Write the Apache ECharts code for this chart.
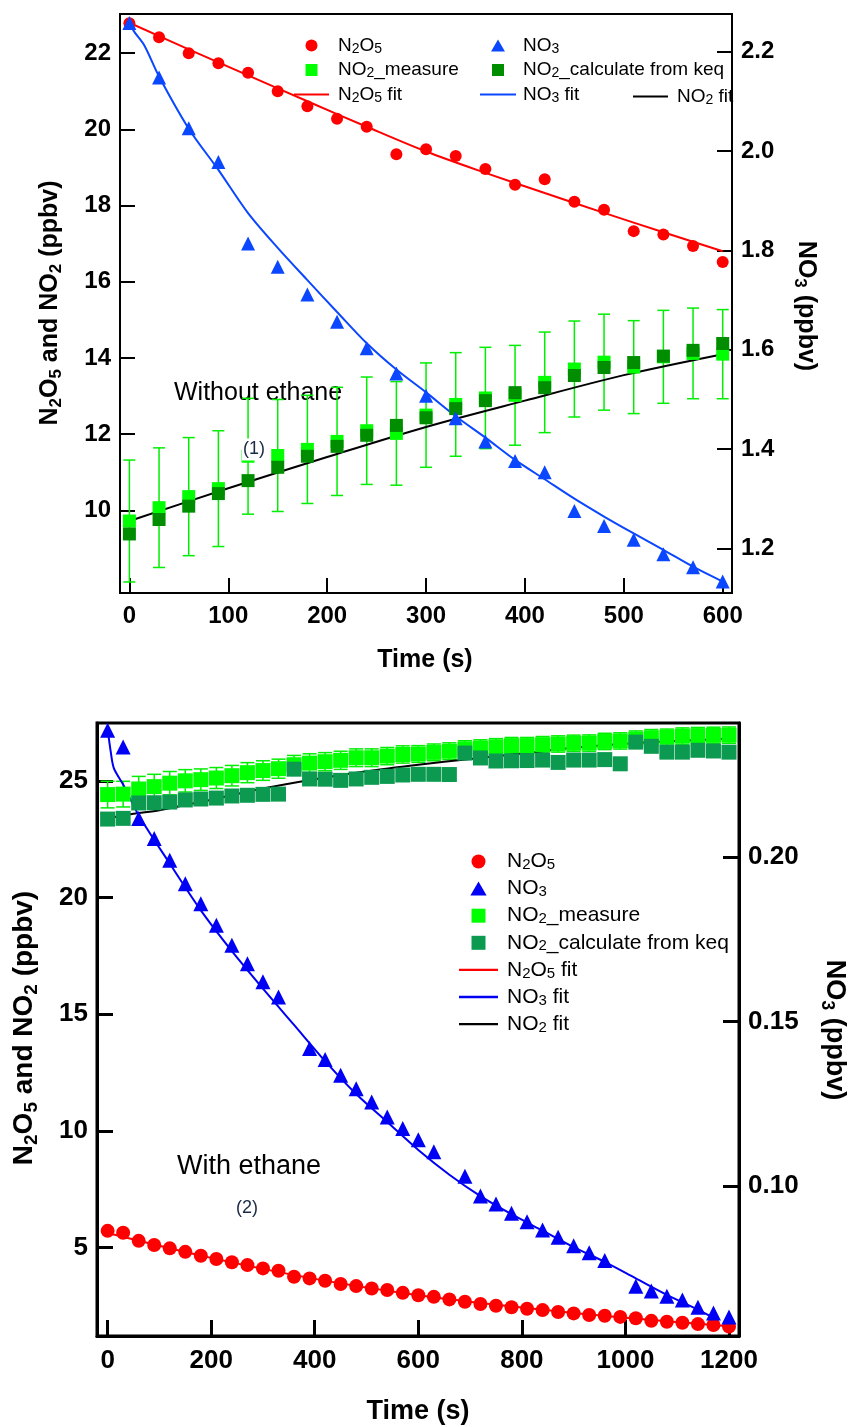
<!DOCTYPE html>
<html><head><meta charset="utf-8">
<script src="https://cdn.jsdelivr.net/npm/echarts@6.0.0/dist/echarts.min.js"></script>
<style>html,body{margin:0;padding:0;background:#fff}#c{width:852px;height:1427px}</style>
</head><body><div id="c"></div>
<script>
// ---------------- DATA : top panel (without ethane) ----------------
const tTop = [0,30,60,90,120,150,180,210,240,270,300,330,360,390,420,450,480,510,540,570,600];
const n2o5Top = [22.79,22.42,22.00,21.74,21.49,21.00,20.61,20.28,20.07,19.35,19.48,19.30,18.96,18.55,18.69,18.10,17.89,17.33,17.24,16.94,16.52];
const no3Top = [2.258,2.148,2.046,1.978,1.814,1.767,1.711,1.656,1.603,1.552,1.507,1.462,1.415,1.376,1.353,1.275,1.245,1.217,1.188,1.162,1.133];
const no2MeasTop = [9.72,10.07,10.36,10.57,11.42,11.44,11.60,11.81,12.09,12.02,12.50,12.78,12.95,13.02,13.36,13.71,13.89,13.76,14.03,14.12,14.10];
const no2ErrTop = [1.60,1.57,1.55,1.52,1.52,1.47,1.42,1.42,1.41,1.36,1.37,1.36,1.33,1.31,1.32,1.26,1.26,1.22,1.22,1.19,1.17];
const no2CalcTop = [9.38,9.76,10.11,10.44,10.78,11.13,11.42,11.68,11.97,12.23,12.43,12.67,12.88,13.09,13.22,13.54,13.75,13.88,14.05,14.20,14.38];
const n2o5FitTopT = [0,60,120,180,240,300,360,420,480,540,600];
const n2o5FitTop = [22.80,22.10,21.42,20.74,20.07,19.42,18.86,18.33,17.81,17.30,16.80];
const no3FitTopT = [0,5,15,30,60,90,120,150,180,210,240,270,300,330,360,390,420,450,480,510,540,570,600];
const no3FitTop = [2.258,2.240,2.213,2.150,2.045,1.962,1.875,1.805,1.740,1.676,1.613,1.560,1.514,1.466,1.423,1.378,1.339,1.300,1.264,1.230,1.197,1.163,1.133];
const no2FitTopT = [0,100,200,300,400,500,600];
const no2FitTop = [9.72,10.58,11.40,12.19,12.88,13.55,14.10];
const xTicksTop = [0,100,200,300,400,500,600];
const yLeftTicksTop = [10,12,14,16,18,20,22];
const yRightTicksTop = [1.2,1.4,1.6,1.8,2.0,2.2];

// ---------------- DATA : bottom panel (with ethane) ----------------
const tBot = [0,30,60,90,120,150,180,210,240,270,300,330,360,390,420,450,480,510,540,570,600,630,660,690,720,750,780,810,840,870,900,930,960,990,1020,1050,1080,1110,1140,1170,1200];
const n2o5Bot = [5.71,5.63,5.28,5.10,4.96,4.81,4.64,4.50,4.36,4.24,4.10,4.00,3.74,3.67,3.57,3.43,3.34,3.24,3.17,3.05,2.95,2.88,2.77,2.67,2.57,2.50,2.43,2.37,2.31,2.23,2.17,2.10,2.07,2.02,1.96,1.85,1.81,1.77,1.71,1.67,1.60];
const no3Bot = [0.2385,0.2334,0.2117,0.2056,0.1990,0.1919,0.1858,0.1793,0.1732,0.1676,0.1621,0.1575,null,0.1418,0.1385,0.1337,0.1296,0.1256,0.1210,0.1175,0.1141,0.1105,null,0.1030,0.0970,0.0946,0.0918,0.0892,0.0867,0.0845,0.0819,0.0798,0.0774,null,0.0696,0.0682,0.0666,0.0654,0.0632,0.0615,0.0603];
const no2MeasBot = [24.42,24.44,24.66,24.76,24.91,25.01,25.06,25.13,25.23,25.36,25.45,25.53,25.70,25.77,25.83,25.89,26.00,26.00,26.07,26.14,26.16,26.23,26.28,26.38,26.42,26.47,26.52,26.52,26.56,26.59,26.62,26.63,26.70,26.72,26.80,26.86,26.88,26.93,26.95,26.96,26.97];
const no2ErrBot = [0.57,0.55,0.54,0.53,0.50,0.48,0.46,0.45,0.44,0.43,0.42,0.41,0.40,0.40,0.39,0.39,0.38,0.38,0.37,0.37,0.36,0.36,0.36,0.35,0.35,0.35,0.35,0.35,0.35,0.35,0.35,0.35,0.35,0.35,0.35,0.35,0.35,0.35,0.35,0.35,0.35];
const no2CalcBot = [23.37,23.40,24.06,24.07,24.10,24.19,24.23,24.27,24.36,24.39,24.43,24.44,25.51,25.09,25.08,25.03,25.09,25.16,25.20,25.26,25.29,25.29,25.28,26.20,25.99,25.86,25.87,25.88,25.90,25.80,25.90,25.90,25.92,25.74,26.67,26.49,26.24,26.24,26.32,26.29,26.24];
const n2o5FitBotT = [0,200,400,600,800,1000,1200];
const n2o5FitBot = [5.62,4.55,3.65,2.95,2.42,1.98,1.62];
const no3FitBotT = [0,6,12,30,60,120,180,240,300,360,420,480,540,600,660,720,780,840,900,960,1020,1080,1140,1170];
const no3FitBot = [0.2390,0.2320,0.2270,0.2220,0.2127,0.1980,0.1838,0.1714,0.1600,0.1490,0.1380,0.1280,0.1195,0.1110,0.1035,0.0970,0.0915,0.0865,0.0815,0.0770,0.0720,0.0670,0.0625,0.0600];
const no2FitBotT = [0,50,100,200,300,400,500,600,700,800,900,1000,1100,1200];
const no2FitBot = [23.40,23.60,23.75,24.20,24.68,25.08,25.42,25.70,25.95,26.18,26.43,26.60,26.72,26.82];
const xTicksBot = [0,200,400,600,800,1000,1200];
const yLeftTicksBot = [5,10,15,20,25];
const yRightTicksBot = [0.10,0.15,0.20];

// ---------------- helpers ----------------
const FF = '"Liberation Sans", Arial, sans-serif';
const Z = '\u200b'; // distinguishes bottom-panel series names
const ICON = {
  circle: 'path://M50,0A50,50,0,1,1,50,100A50,50,0,1,1,50,0Z',
  tri: 'path://M58,0L116,100L0,100Z',
  sq: 'path://M0,0H100V100H0Z',
  line: 'path://M0,0H100V6H0Z'
};
const pairs = (xs, ys) => xs.map((x, i) => ys[i] == null ? null : [x, ys[i]]).filter(Boolean);
const bars = (xs, ys, es) => xs.map((x, i) => [x, ys[i] - es[i], ys[i] + es[i]]);
function chem(name) {
  const s = name.replace(/\u200b/g, '');
  return ('{n|' + s.replace(/(\d)/g, '}{s|$1}{n|') + '}').replace(/\{n\|\}/g, '');
}
function errBarSeries(data, xi, yi, cap, color) {
  return {
    type: 'custom', xAxisIndex: xi, yAxisIndex: yi, z: 2, silent: true,
    encode: { x: 0, y: [1, 2] },
    data: data,
    renderItem: function (params, api) {
      const x = api.value(0);
      const pHi = api.coord([x, api.value(2)]);
      const pLo = api.coord([x, api.value(1)]);
      const w = cap / 2;
      const st = { stroke: color, lineWidth: 1.5 };
      return { type: 'group', children: [
        { type: 'line', shape: { x1: pHi[0], y1: pHi[1], x2: pLo[0], y2: pLo[1] }, style: st },
        { type: 'line', shape: { x1: pHi[0] - w, y1: pHi[1], x2: pHi[0] + w, y2: pHi[1] }, style: st },
        { type: 'line', shape: { x1: pLo[0] - w, y1: pLo[1], x2: pLo[0] + w, y2: pLo[1] }, style: st }
      ]};
    }
  };
}
function lineS(name, xs, ys, xi, yi, color, w) {
  return { name, type: 'line', xAxisIndex: xi, yAxisIndex: yi, data: pairs(xs, ys), symbol: 'none',
    smooth: 0.3, color: color, lineStyle: { width: w, color: color }, z: 3, silent: true };
}
function scat(name, xs, ys, xi, yi, symbol, size, color, z) {
  return { name, type: 'scatter', xAxisIndex: xi, yAxisIndex: yi, data: pairs(xs, ys), symbol, symbolSize: size,
    itemStyle: { color: color, opacity: 1 }, z: z, silent: true };
}
function valAxis(o) {
  return Object.assign({
    type: 'value', splitLine: { show: false },
    axisLine: { show: true, onZero: false, lineStyle: { color: '#000', width: o.lw } },
    axisTick: { show: true, inside: true, length: o.tl, customValues: o.ticks, lineStyle: { color: '#000', width: o.lw } },
    axisLabel: { show: true, customValues: o.ticks, margin: o.margin, color: '#000', fontFamily: FF, fontWeight: 'bold', fontSize: o.fs,
      formatter: o.fmt || (v => String(v)) }
  }, o.extra);
}
function legendText(fs, lh, sfs, slh, gap) {
  return { color: '#000', fontFamily: FF, fontSize: fs,
    rich: { g: { width: gap, fontSize: fs, lineHeight: lh },
            n: { fontFamily: FF, fontSize: fs, lineHeight: lh, color: '#000' },
            s: { fontFamily: FF, fontSize: sfs, lineHeight: slh, verticalAlign: 'bottom', color: '#000' } } };
}
function legend(left, top, iw, ih, gap, items, fs, lh, sfs, slh, tgap) {
  return { orient: 'vertical', left: left, top: top, padding: 0, itemWidth: iw, itemHeight: ih, itemGap: gap,
    selectedMode: false, symbolKeepAspect: true, itemStyle: { borderWidth: 0 },
    data: items.map(it => ({ name: it[0], icon: it[1] })),
    formatter: n => '{g| }' + chem(n), textStyle: legendText(fs, lh, sfs, slh, tgap) };
}
function titleText(x, y, rot, txt, fs, sfs, slh, lh) {
  return { type: 'text', x: x, y: y, rotation: rot, z: 10, silent: true,
    style: { text: txt, align: 'center', verticalAlign: 'middle', textAlign: 'center', textVerticalAlign: 'middle',
      fill: '#000', fontFamily: FF, fontWeight: 'bold', fontSize: fs,
      rich: { b: { fontFamily: FF, fontWeight: 'bold', fontSize: fs, lineHeight: lh, fill: '#000', color: '#000' },
              bs: { fontFamily: FF, fontWeight: 'bold', fontSize: sfs, lineHeight: slh, verticalAlign: 'bottom', fill: '#000', color: '#000' } } } };
}

const C = { red: '#ff0000', blueT: '#0a47ff', blueB: '#0000f5', lg: '#00ff00', dgT: '#008e00', dgB: '#0b9a50', eb: '#00ee00' };

const option = {
  animation: false,
  backgroundColor: '#fff',
  grid: [
    { left: 120, top: 14, width: 612, height: 579, show: true, borderColor: '#000', borderWidth: 2, backgroundColor: 'transparent' },
    { left: 97, top: 723, width: 642, height: 613, show: true, borderColor: '#000', borderWidth: 3, backgroundColor: 'transparent' }
  ],
  xAxis: [
    valAxis({ lw: 2, tl: 15, ticks: xTicksTop, margin: 11, fs: 24, extra: { gridIndex: 0, position: 'bottom', min: -9.5, max: 609.4 } }),
    valAxis({ lw: 3, tl: 16, ticks: xTicksBot, margin: 12, fs: 26, extra: { gridIndex: 1, position: 'bottom', min: -20.5, max: 1219.3 } })
  ],
  yAxis: [
    valAxis({ lw: 2, tl: 15, ticks: yLeftTicksTop, margin: 9, fs: 24, extra: { gridIndex: 0, position: 'left', min: 7.83, max: 23.03 } }),
    valAxis({ lw: 2, tl: 15, ticks: yRightTicksTop, margin: 9, fs: 24, fmt: v => v.toFixed(1), extra: { gridIndex: 0, position: 'right', min: 1.11, max: 2.276 } }),
    valAxis({ lw: 3, tl: 16, ticks: yLeftTicksBot, margin: 9, fs: 26, extra: { gridIndex: 1, position: 'left', min: 1.2, max: 27.49 } }),
    valAxis({ lw: 3, tl: 16, ticks: yRightTicksBot, margin: 9, fs: 26, fmt: v => v.toFixed(2), extra: { gridIndex: 1, position: 'right', min: 0.0545, max: 0.2407 } })
  ],
  legend: [
    legend(294, 36, 35, 12, 4.5, [['N2O5', ICON.circle], ['NO2_measure', ICON.sq], ['N2O5 fit', ICON.line]], 19, 21, 14, 10, 4),
    legend(480, 36, 36, 12, 4.5, [['NO3', ICON.tri], ['NO2_calculate from keq', ICON.sq], ['NO3 fit', ICON.line]], 19, 21, 14, 10, 2),
    legend(633, 87, 35, 12, 4.5, [['NO2 fit', ICON.line]], 19, 21, 14, 10, 4),
    legend(459, 851, 39, 14, 5.6, [['N2O5' + Z, ICON.circle], ['NO3' + Z, ICON.tri], ['NO2_measure' + Z, ICON.sq],
      ['NO2_calculate from keq' + Z, ICON.sq], ['N2O5 fit' + Z, ICON.line], ['NO3 fit' + Z, ICON.line], ['NO2 fit' + Z, ICON.line]],
      21, 22, 15, 11, 4)
  ],
  graphic: [
    titleText(50, 303, Math.PI / 2, '{b|N}{bs|2}{b|O}{bs|5}{b| and NO}{bs|2}{b| (ppbv)}', 25, 17, 16, 30),
    titleText(806, 306, -Math.PI / 2, '{b|NO}{bs|3}{b| (ppbv)}', 25, 17, 16, 30),
    titleText(425, 660, 0, '{b|Time (s)}', 25, 17, 16, 30),
    titleText(24, 1028, Math.PI / 2, '{b|N}{bs|2}{b|O}{bs|5}{b| and NO}{bs|2}{b| (ppbv)}', 28, 19, 18, 34),
    titleText(834, 1030, -Math.PI / 2, '{b|NO}{bs|3}{b| (ppbv)}', 27, 18, 17, 32),
    titleText(418, 1412, 0, '{b|Time (s)}', 27, 18, 17, 32),
    { type: 'text', x: 174, y: 393, z: 1, silent: true,
      style: { text: 'Without ethane', align: 'left', verticalAlign: 'middle', fill: '#000', fontFamily: FF, fontSize: 25 } },
    { type: 'text', x: 254, y: 449.5, z: 50, silent: true,
      style: { text: '(1)', align: 'center', verticalAlign: 'middle', fill: '#1a2a44', fontFamily: FF, fontSize: 18,
        lineHeight: 22, backgroundColor: '#fff', padding: [0, 1] } },
    { type: 'text', x: 177, y: 1167, z: 1, silent: true,
      style: { text: 'With ethane', align: 'left', verticalAlign: 'middle', fill: '#000', fontFamily: FF, fontSize: 27 } },
    { type: 'text', x: 247, y: 1208, z: 50, silent: true,
      style: { text: '(2)', align: 'center', verticalAlign: 'middle', fill: '#1a2a44', fontFamily: FF, fontSize: 18 } }
  ],
  series: [
    // top panel
    errBarSeries(bars(tTop, no2MeasTop, no2ErrTop), 0, 0, 12, C.eb),
    lineS('NO2 fit', no2FitTopT, no2FitTop, 0, 0, '#000', 2),
    lineS('N2O5 fit', n2o5FitTopT, n2o5FitTop, 0, 0, C.red, 2),
    lineS('NO3 fit', no3FitTopT, no3FitTop, 0, 1, C.blueT, 2),
    scat('NO2_measure', tTop, no2MeasTop, 0, 0, 'rect', 13, C.lg, 4),
    scat('NO2_calculate from keq', tTop, no2CalcTop, 0, 0, 'rect', 13, C.dgT, 5),
    scat('N2O5', tTop, n2o5Top, 0, 0, 'circle', 12, C.red, 6),
    scat('NO3', tTop, no3Top, 0, 1, 'triangle', 14, C.blueT, 7),
    // bottom panel
    errBarSeries(bars(tBot, no2MeasBot, no2ErrBot), 1, 2, 14, C.eb),
    lineS('NO2 fit' + Z, no2FitBotT, no2FitBot, 1, 2, '#000', 2),
    lineS('N2O5 fit' + Z, n2o5FitBotT, n2o5FitBot, 1, 2, C.red, 2),
    lineS('NO3 fit' + Z, no3FitBotT, no3FitBot, 1, 3, C.blueB, 2),
    scat('NO2_measure' + Z, tBot, no2MeasBot, 1, 2, 'rect', 15, C.lg, 4),
    scat('NO2_calculate from keq' + Z, tBot, no2CalcBot, 1, 2, 'rect', 15, C.dgB, 5),
    scat('N2O5' + Z, tBot, n2o5Bot, 1, 2, 'circle', 14, C.red, 6),
    scat('NO3' + Z, tBot, no3Bot, 1, 3, 'triangle', 15, C.blueB, 7)
  ]
};
const chart = echarts.init(document.getElementById('c'), null, { renderer: 'canvas' });
chart.setOption(option);
</script></body></html>
